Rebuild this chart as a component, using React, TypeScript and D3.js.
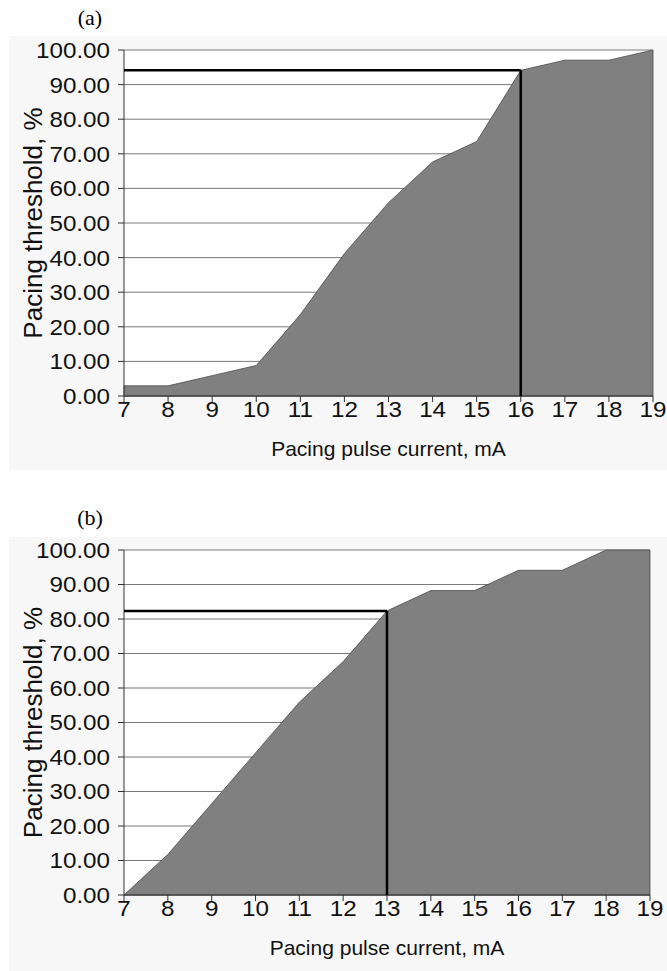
import React from 'react';
import * as d3 from 'd3';

// pacing pulse current, mA
const currents = [7, 8, 9, 10, 11, 12, 13, 14, 15, 16, 17, 18, 19];
// cumulative share of patients paced, %
const thresholdA = [2.94, 2.94, 5.88, 8.82, 23.53, 41.18, 55.88, 67.65, 73.53, 94.12, 97.06, 97.06, 100];
const thresholdB = [0, 11.76, 26.47, 41.18, 55.88, 67.65, 82.35, 88.24, 88.24, 94.12, 94.12, 100, 100];
const yTicks = [0, 10, 20, 30, 40, 50, 60, 70, 80, 90, 100];
const markA = { x: 16, y: 94.12 };
const markB = { x: 13, y: 82.35 };

const font = "'Liberation Sans', Arial, sans-serif";

type PanelProps = {
  label: string;
  values: number[];
  mark: { x: number; y: number };
  top: number;
  left: number;
  right: number;
  bottom: number;
  bgTop: number;
  bgBottom: number;
};

const Panel = ({ label, values, mark, top, left, right, bottom, bgTop, bgBottom }: PanelProps) => {
  const x = d3.scaleLinear().domain([7, 19]).range([left, right]);
  const y = d3.scaleLinear().domain([0, 100]).range([bottom, top]);

  const pts = currents.map((c, i) => ({ c, v: values[i] }));
  const area = d3.area<{ c: number; v: number }>()
    .x(d => x(d.c))
    .y0(y(0))
    .y1(d => y(d.v));

  return (
    <g>
      <rect x={9} y={bgTop} width={658} height={bgBottom - bgTop} fill="#f7f7f7" />
      <rect x={left} y={top} width={right - left} height={bottom - top} fill="#ffffff" />
      <text x={90} y={top - 25} fontFamily="'Liberation Serif', 'Times New Roman', serif" fontSize={22} textAnchor="middle">{label}</text>

      {/* gridlines */}
      {yTicks.map(t => (
        <line key={t} x1={left} x2={right} y1={y(t)} y2={y(t)} stroke="#7a7a7a" strokeWidth={1} />
      ))}

      <path d={area(pts) || ''} fill="#808080" stroke="#4a4a4a" strokeWidth={0.8} />

      {/* y axis */}
      <line x1={left} x2={left} y1={top} y2={bottom} stroke="#333" strokeWidth={1} />
      {yTicks.map(t => (
        <g key={t}>
          <line x1={left - 6} x2={left} y1={y(t)} y2={y(t)} stroke="#333" strokeWidth={1} />
          <text transform={`translate(${left - 14},${y(t)}) scale(1.1,1)`} dy="0.36em" textAnchor="end" fontFamily={font} fontSize={22} fill="#111">
            {t.toFixed(2)}
          </text>
        </g>
      ))}

      {/* x axis */}
      <line x1={left} x2={right} y1={bottom} y2={bottom} stroke="#333" strokeWidth={1} />
      {currents.map(c => (
        <g key={c}>
          <line x1={x(c)} x2={x(c)} y1={bottom} y2={bottom + 6} stroke="#333" strokeWidth={1} />
          <text transform={`translate(${x(c)},${bottom + 21}) scale(1.1,1)`} textAnchor="middle" fontFamily={font} fontSize={22} fill="#111">{c}</text>
        </g>
      ))}

      {/* threshold marker */}
      <line x1={left} x2={x(mark.x)} y1={y(mark.y)} y2={y(mark.y)} stroke="#000" strokeWidth={2.5} />
      <line x1={x(mark.x)} x2={x(mark.x)} y1={y(mark.y)} y2={y(0)} stroke="#000" strokeWidth={2.5} />

      <text x={(left + right) / 2} y={bottom + 60} textAnchor="middle" fontFamily={font} fontSize={21} fill="#111">
        Pacing pulse current, mA
      </text>
      <text
        transform={`translate(${42},${(top + bottom) / 2}) rotate(-90)`}
        textAnchor="middle"
        fontFamily={font}
        fontSize={26}
        fill="#111"
      >
        Pacing threshold, %
      </text>
    </g>
  );
};

export default function App() {
  return (
    <svg width={667} height={971} style={{ position: 'absolute', left: 0, top: 0, background: '#fff' }}>
      <Panel label="(a)" values={thresholdA} mark={markA} top={50} left={124} right={653} bottom={396} bgTop={36} bgBottom={470} />
      <Panel label="(b)" values={thresholdB} mark={markB} top={550} left={124} right={650} bottom={895} bgTop={537} bgBottom={971} />
    </svg>
  );
}
